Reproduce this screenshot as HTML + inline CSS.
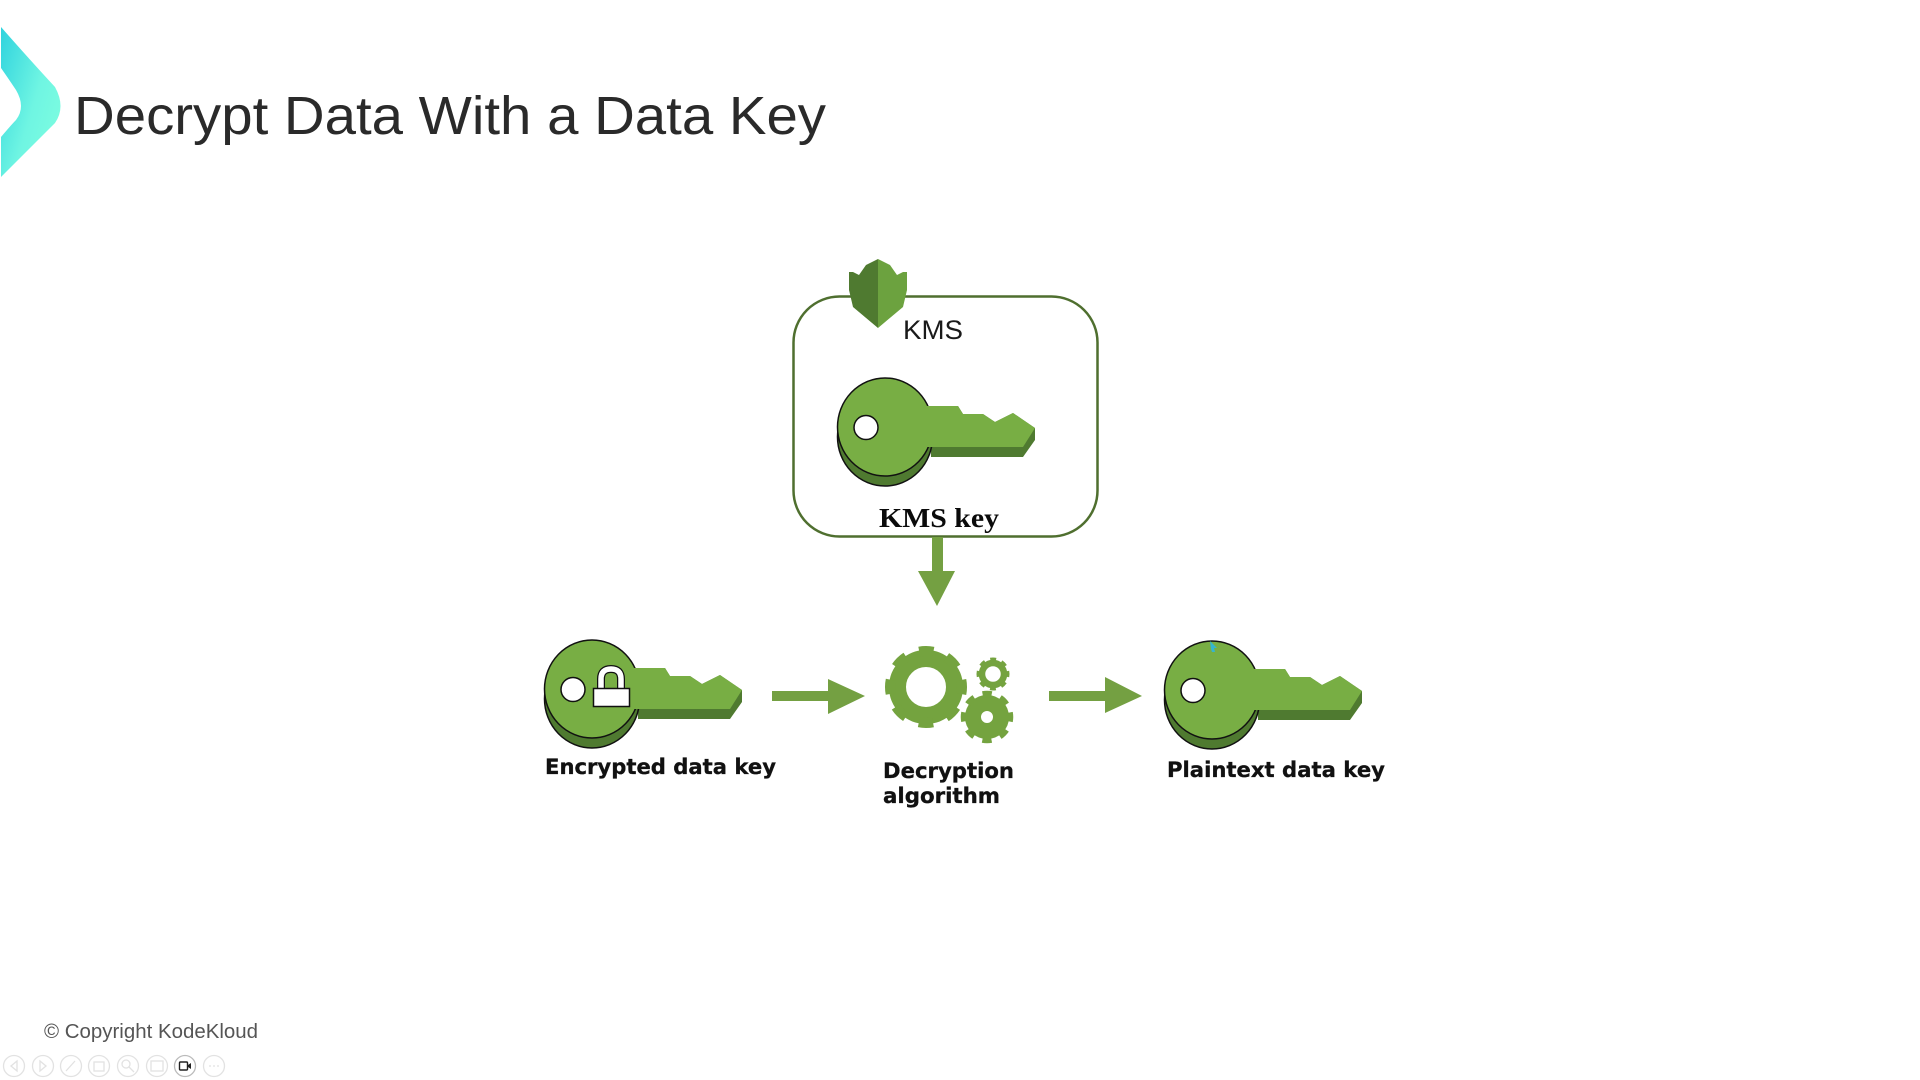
<!DOCTYPE html>
<html>
<head>
<meta charset="utf-8">
<style>
html,body{margin:0;padding:0;background:#fff;width:1920px;height:1080px;overflow:hidden}
svg{display:block}
</style>
</head>
<body>
<svg width="1920" height="1080" viewBox="0 0 1920 1080" xmlns="http://www.w3.org/2000/svg">
<defs>
<linearGradient id="chev" x1="0" y1="0" x2="1" y2="0.75">
<stop offset="0" stop-color="#2fd3de"/><stop offset="0.6" stop-color="#6ff5e2"/><stop offset="1" stop-color="#7dfde0"/>
</linearGradient>
<g id="key">
<!-- origin = head centre -->
<path d="M45,-21 L73,-21 L78,-13 L98,-13 L110,-5 L128,-14 L150,1 L150,13 L138,30 L46,30 Z" fill="#4f7a30"/>
<ellipse cx="0" cy="10" rx="47.5" ry="49" fill="#4f7a30" stroke="#111" stroke-width="1.5"/>
<ellipse cx="0" cy="0" rx="47.5" ry="49" fill="#78ae44" stroke="#111" stroke-width="1.5"/>
<path d="M40,-21 L73,-21 L78,-13 L98,-13 L110,-5 L128,-14 L150,1 L138,20 L40,20 Z" fill="#78ae44"/>
<circle cx="-19" cy="0.5" r="12" fill="#fff" stroke="#111" stroke-width="1.5"/>
</g>
</defs>

<!-- chevron -->
<path d="M1,27 Q30,60 55,87 Q66,107 55,123 L1,177 L1,137 Q12,124 16,120 Q26,107 16,90 Q8,78 1,68 Z" fill="url(#chev)"/>

<!-- title -->
<text x="74" y="134" font-family="'Liberation Sans',sans-serif" font-size="54" fill="#2a2a2a" textLength="752" lengthAdjust="spacingAndGlyphs">Decrypt Data With a Data Key</text>

<!-- KMS box -->
<rect x="793.5" y="296.5" width="304" height="240" rx="46" ry="46" fill="#fff" stroke="#4f6f2f" stroke-width="2.5"/>

<!-- shield -->
<path d="M878,259 L866,265 L859,275 L853,272 L849,272 L849,290 L853,307 L878,328 Z" fill="#4f7a30"/>
<path d="M878,259 L890,265 L897,275 L903,272 L907,272 L907,290 L903,307 L878,328 Z" fill="#6ca23f"/>

<text x="903" y="339" font-family="'Liberation Sans',sans-serif" font-size="27" fill="#1a1a1a" textLength="60" lengthAdjust="spacingAndGlyphs">KMS</text>

<!-- KMS key -->
<use href="#key" x="885" y="427"/>
<text x="879" y="527" font-family="'Liberation Serif',serif" font-weight="bold" font-size="27" fill="#0a0a0a" textLength="120" lengthAdjust="spacingAndGlyphs">KMS key</text>

<!-- down arrow -->
<path d="M932,537 H943 V571 H955 L937,606 L918,571 H932 Z" fill="#74a042"/>

<!-- encrypted key -->
<use href="#key" x="592" y="689"/>
<path d="M601,689 V679 Q601,669 611,669 Q621,669 621,679 V689" fill="none" stroke="#111" stroke-width="8"/>
<path d="M601,689 V679 Q601,669 611,669 Q621,669 621,679 V689" fill="none" stroke="#fff" stroke-width="5.5"/>
<rect x="593.5" y="688.5" width="36" height="18" fill="#fff" stroke="#111" stroke-width="1.5"/>
<text x="545" y="774" font-family="'DejaVu Sans',sans-serif" font-weight="bold" font-size="21" fill="#111" stroke="#111" stroke-width="0.3" textLength="231" lengthAdjust="spacingAndGlyphs">Encrypted data key</text>

<!-- arrows -->
<path d="M772,691 H828 V679 L865,696 L828,714 V701 H772 Z" fill="#74a042"/>
<path d="M1049,691 H1105 V677 L1142,696 L1105,713 V701 H1049 Z" fill="#74a042"/>

<!-- gears -->
<g fill="none" stroke="#74a33f">
<circle cx="926" cy="687" r="28.5" stroke-width="17"/>
<circle cx="926" cy="687" r="36" stroke-width="10" stroke-dasharray="14.14 14.14" transform="rotate(-11.25 926 687)"/>
<circle cx="993" cy="674" r="11" stroke-width="6.5"/>
<circle cx="993" cy="674" r="14.5" stroke-width="4" stroke-dasharray="5.7 5.7" transform="rotate(-11.25 993 674)"/>
<circle cx="987" cy="717" r="14" stroke-width="16"/>
<circle cx="987" cy="717" r="23" stroke-width="6.5" stroke-dasharray="9.03 9.03" transform="rotate(-11.25 987 717)"/>
</g>
<text x="883" y="778" font-family="'DejaVu Sans',sans-serif" font-weight="bold" font-size="21" fill="#111" stroke="#111" stroke-width="0.3" textLength="131" lengthAdjust="spacingAndGlyphs">Decryption</text>
<text x="883" y="803" font-family="'DejaVu Sans',sans-serif" font-weight="bold" font-size="21" fill="#111" stroke="#111" stroke-width="0.3" textLength="117" lengthAdjust="spacingAndGlyphs">algorithm</text>

<!-- plaintext key -->
<use href="#key" x="1212" y="690"/>
<text x="1167" y="777" font-family="'DejaVu Sans',sans-serif" font-weight="bold" font-size="21" fill="#111" stroke="#111" stroke-width="0.3" textLength="218" lengthAdjust="spacingAndGlyphs">Plaintext data key</text>
<!-- cursor -->
<path d="M1210,641 L1217,648 L1214,648 L1215,652 L1212,652 L1211,649 Z" fill="#35b5cf"/>

<!-- copyright -->
<text x="44" y="1038" font-family="'Liberation Sans',sans-serif" font-size="20" fill="#555" textLength="214" lengthAdjust="spacingAndGlyphs">© Copyright KodeKloud</text>

<!-- toolbar -->
<g fill="none" stroke="#e2e2e2" stroke-width="1.3">
<circle cx="14" cy="1066" r="10.5"/><path d="M17,1061 L11,1066 L17,1071 Z"/>
<circle cx="43" cy="1066" r="10.5"/><path d="M40,1061 L46,1066 L40,1071 Z"/>
<circle cx="71" cy="1066" r="10.5"/><path d="M66,1071 L75,1061"/>
<circle cx="99" cy="1066" r="10.5"/><rect x="94" y="1062" width="10" height="9"/>
<circle cx="128" cy="1066" r="10.5"/><circle cx="126" cy="1064" r="4"/><path d="M129,1067 L134,1072"/>
<circle cx="157" cy="1066" r="10.5"/><rect x="151" y="1061" width="12" height="10"/>
<circle cx="214" cy="1066" r="10.5"/><path d="M209,1066 H219" stroke-dasharray="2 2"/>
</g>
<circle cx="185" cy="1066" r="10.5" fill="#fff" stroke="#bbb" stroke-width="1.3"/>
<rect x="179.5" y="1062" width="8" height="8" rx="1" fill="none" stroke="#222" stroke-width="1.4"/>
<path d="M188,1065 L191,1063 V1069 L188,1067 Z" fill="#222"/>
</svg>
</body>
</html>
